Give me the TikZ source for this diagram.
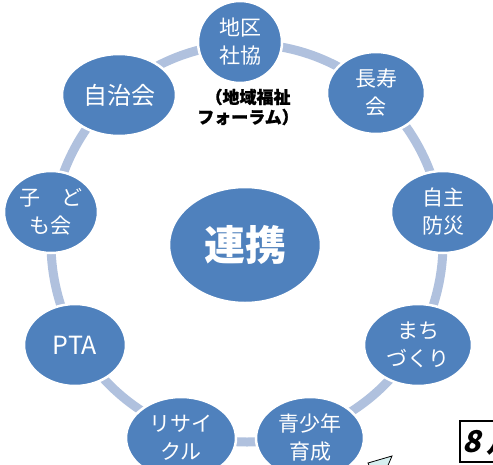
\documentclass[tikz,border=0pt]{standalone}
\usepackage{fontspec}
\usepackage{tikz}
\usetikzlibrary{shapes.geometric}
\newfontfamily\cjk{Noto Sans CJK JP}
\newfontfamily\cjkheavy{Noto Sans CJK JP}[FakeBold=1.2]
\newfontfamily\cjkslant{Noto Sans CJK JP}[FakeSlant=0.25]
\definecolor{steelblue}{RGB}{79, 129, 189}
\definecolor{ringblue}{RGB}{176, 193, 222}
\definecolor{paleaqua}{RGB}{214, 240, 240}
\tikzset{
  member/.style={ellipse, fill=steelblue, draw=white, line width=2.5pt, minimum height=82pt,
                 inner sep=0pt, text=white, align=center, font=\cjk\fontsize{21}{28}\selectfont},
}

\begin{document}
\begin{tikzpicture}[x=1pt, y=-1pt]
            \useasboundingbox (0,0) rectangle (493,464);
            \coordinate (hub) at (247,243);
            \draw[ringblue, line width=9pt] (hub) ellipse (196 and 199);
            \node[member, minimum width=84pt]  (chiku)   at (240, 42) {地区\\社協};
            \node[member, minimum width=98pt]  (choju)   at (376, 93) {長寿\\会};
            \node[member, minimum width=104pt] (bosai)   at (443,212) {自主\\防災};
            \node[member, minimum width=108pt] (machi)   at (418,345) {まち\\づくり};
            \node[member, minimum width=108pt] (seishonen) at (310,438) {青少年\\育成};
            \node[member, minimum width=110pt] (recycle) at (181,438) {リサイ\\クル};
            \node[member, minimum width=102pt, font=\cjk\fontsize{25}{28}\selectfont] (pta) at (75,345) {PTA};
            \node[member, minimum width=94pt]  (kodomo)  at ( 51,212) {子　ど\\も会};
            \node[member, minimum width=114pt, font=\cjk\fontsize{24}{28}\selectfont] (jichi) at (119, 95) {自治会};
            \node[member, minimum width=152pt, minimum height=116pt, font=\cjk\bfseries\fontsize{41}{44}\selectfont] (renkei) at (245,245) {連携};
            \node[font=\cjkheavy\bfseries\fontsize{17}{20}\selectfont, align=center, inner sep=0pt] (forum) at (248,107) {（地域福祉\\フォーラム）};
            \filldraw[draw=black, fill=paleaqua, line width=0.8pt] (368,463) -- (392,456) -- (386,470) -- (372,472) -- cycle;
            \node[draw, line width=1.6pt, anchor=north west, minimum height=41pt, inner xsep=3pt,
                  font=\cjkslant\bfseries\fontsize{30}{30}\selectfont] (datebox) at (459,420) {8\,月};
\end{tikzpicture}
\end{document}
